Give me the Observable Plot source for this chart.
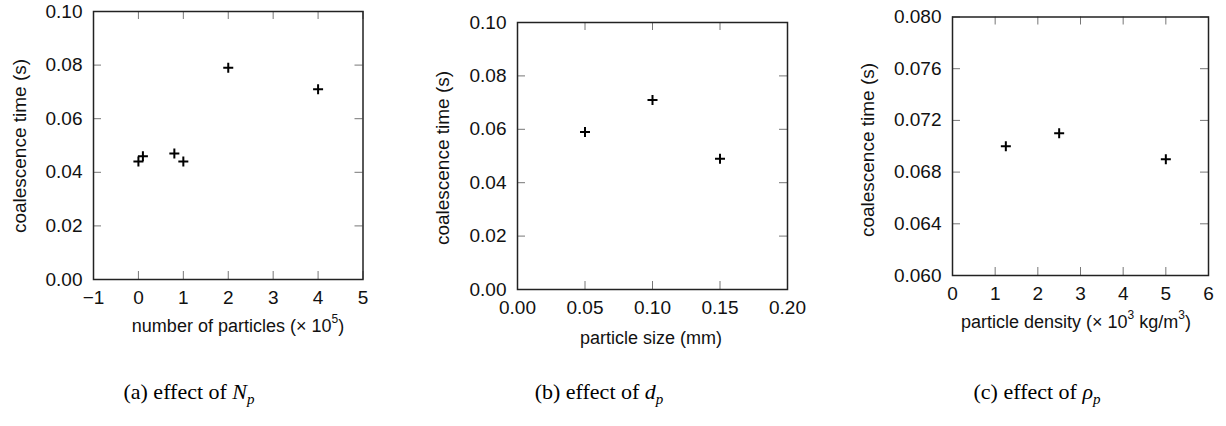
<!DOCTYPE html>
<html>
<head>
<meta charset="utf-8">
<script src="https://cdn.jsdelivr.net/npm/d3@7"></script>
<script src="https://cdn.jsdelivr.net/npm/@observablehq/plot@0.6"></script>
<style>
  html, body { margin: 0; padding: 0; background: #fff; }
  #root { position: relative; width: 1226px; height: 426px; overflow: hidden; font-family: "Liberation Sans", Arial, sans-serif; }
  .panel { position: absolute; top: 0; }
  .lbl { position: absolute; white-space: nowrap; font-size: 18px; color: #111; transform: translate(-50%, -50%); line-height: 1; }
  .ylbl { font-size: 19px; transform: translate(-50%, -50%) rotate(-90deg); }
  .lbl sup { font-size: 12px; position: relative; top: -2px; vertical-align: super; line-height: 0; }
  .cap { position: absolute; white-space: nowrap; font-family: "Liberation Serif", "Times New Roman", serif; font-size: 22px; color: #000; transform: translate(-50%, -50%); line-height: 1; }
  .cap sub { font-size: 15px; vertical-align: -5px; line-height: 0; }
</style>
</head>
<body>
<div id="root"></div>
<script>
// ---- data ----
const npX = [0, 0.1, 0.8, 1.0, 2, 4];            // number of particles (×10^5)
const npY = [0.044, 0.046, 0.047, 0.044, 0.079, 0.071];
const dpX = [0.05, 0.10, 0.15];                    // particle size (mm)
const dpY = [0.059, 0.071, 0.049];
const rhoX = [1.25, 2.5, 5];                       // particle density (×10^3 kg/m^3)
const rhoY = [0.070, 0.071, 0.069];

const xTicksA = [-1, 0, 1, 2, 3, 4, 5];
const yTicksA = [0, 0.02, 0.04, 0.06, 0.08, 0.10];
const xTicksB = [0, 0.05, 0.10, 0.15, 0.20];
const yTicksB = [0, 0.02, 0.04, 0.06, 0.08, 0.10];
const xTicksC = [0, 1, 2, 3, 4, 5, 6];
const yTicksC = [0.060, 0.064, 0.068, 0.072, 0.076, 0.080];

const yLabel = "coalescence time (s)";

// ---- drawing ----
const plusSymbol = {
  draw(ctx, size) {
    const r = Math.sqrt(size / Math.PI);
    ctx.moveTo(-r, 0); ctx.lineTo(r, 0);
    ctx.moveTo(0, -r); ctx.lineTo(0, r);
  }
};

const root = document.getElementById("root");

function panel({left, width, height, frame, xDomain, yDomain, xTicks, yTicks, xFmt, yFmt, xs, ys}) {
  const mL = frame.l - left, mR = left + width - frame.r, mT = frame.t, mB = height - frame.b;
  const iw = frame.r - frame.l, ih = frame.b - frame.t;
  const tk = 8;
  const pts = xs.map((x, i) => ({x, y: ys[i]}));
  const svg = Plot.plot({
    width, height,
    marginLeft: mL, marginRight: mR, marginTop: mT, marginBottom: mB,
    style: {fontFamily: "'Liberation Sans', Arial, sans-serif", fontSize: "19px", color: "#111", background: "transparent"},
    x: {domain: xDomain, label: null},
    y: {domain: yDomain, label: null},
    marks: [
      Plot.axisX(xTicks, {tickSize: 0, tickPadding: 11, tickFormat: xFmt, fontSize: 19}),
      Plot.axisY(yTicks, {tickSize: 0, tickPadding: 11, tickFormat: yFmt, fontSize: 19}),
      Plot.tickX(xTicks, {x: d => d, insetTop: ih - tk, stroke: "#777", strokeWidth: 1}),
      Plot.tickX(xTicks, {x: d => d, insetBottom: ih - tk, stroke: "#777", strokeWidth: 1}),
      Plot.tickY(yTicks, {y: d => d, insetRight: iw - tk, stroke: "#777", strokeWidth: 1}),
      Plot.tickY(yTicks, {y: d => d, insetLeft: iw - tk, stroke: "#777", strokeWidth: 1}),
      Plot.frame({stroke: "#222", strokeWidth: 1.5}),
      Plot.dot(pts, {x: "x", y: "y", symbol: plusSymbol, r: 5, stroke: "#000", strokeWidth: 2, fill: "none"})
    ]
  });
  svg.classList.add("panel");
  svg.style.left = left + "px";
  root.appendChild(svg);
}

function label(html, cx, cy, cls) {
  const d = document.createElement("div");
  d.className = cls;
  d.innerHTML = html;
  d.style.left = cx + "px";
  d.style.top = cy + "px";
  root.appendChild(d);
}

const f2 = d3.format(".2f"), f3 = d3.format(".3f"), fi = d => d3.format("d")(d).replace("-", "\u2212");

panel({left: 0, width: 400, height: 340, frame: {l: 93, r: 362.5, t: 11, b: 279},
  xDomain: [-1, 5], yDomain: [0, 0.1], xTicks: xTicksA, yTicks: yTicksA, xFmt: fi, yFmt: f2, xs: npX, ys: npY});
panel({left: 400, width: 420, height: 340, frame: {l: 517, r: 787, t: 22, b: 289},
  xDomain: [0, 0.2], yDomain: [0, 0.1], xTicks: xTicksB, yTicks: yTicksB, xFmt: f2, yFmt: f2, xs: dpX, ys: dpY});
panel({left: 820, width: 406, height: 340, frame: {l: 952, r: 1208, t: 16.5, b: 275},
  xDomain: [0, 6], yDomain: [0.060, 0.080], xTicks: xTicksC, yTicks: yTicksC, xFmt: fi, yFmt: f3, xs: rhoX, ys: rhoY});

label(yLabel, 19, 146, "lbl ylbl");
label(yLabel, 442, 158, "lbl ylbl");
label(yLabel, 867, 150, "lbl ylbl");

label("number of particles (× 10<sup>5</sup>)", 238, 326, "lbl");
label("particle size (mm)", 651, 338, "lbl");
label("particle density (× 10<sup>3</sup> kg/m<sup>3</sup>)", 1076, 322, "lbl");

label("(a) effect of <i>N</i><sub><i>p</i></sub>", 189, 392, "cap");
label("(b) effect of <i>d</i><sub><i>p</i></sub>", 599, 392, "cap");
label("(c) effect of <i>ρ</i><sub><i>p</i></sub>", 1037, 392, "cap");
</script>
</body>
</html>
